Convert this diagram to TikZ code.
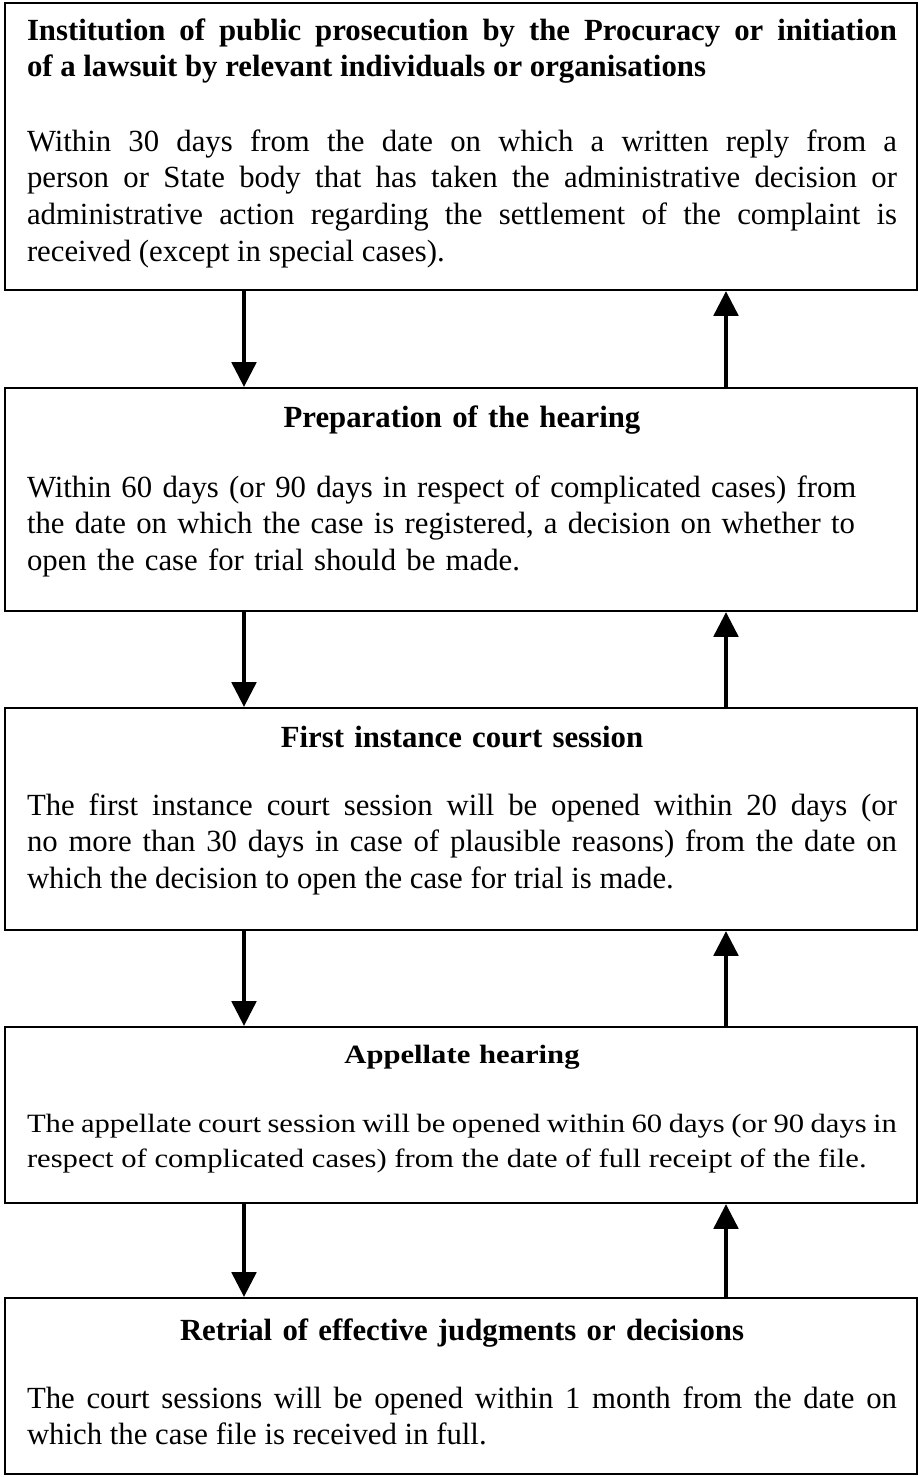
\documentclass[tikz,border=0pt]{standalone}
\usepackage{fontspec}
\setmainfont{Liberation Serif}
\newfontfamily\narrowserif[FakeStretch=1.16]{Liberation Serif}
\usetikzlibrary{arrows.meta,fit}

\begin{document}
\begin{tikzpicture}[x=0.39pt,y=0.39pt,yscale=-1,xscale=1,
  frame/.style={draw, line width=0.9pt, inner sep=0pt},
  head/.style={font=\bfseries\fontsize{12}{14.3}\selectfont, inner sep=0pt, anchor=base, text width=339.3pt, align=center},
  body/.style={font=\fontsize{12}{14.3}\selectfont, inner sep=0pt, anchor=base, text width=339.3pt, align=justify},
  flow/.style={line width=1.2pt, -{Triangle[width=9.6pt,length=9.6pt]}}]
\useasboundingbox (0,0) rectangle (918,1477);

%Shape: Rectangle
\node (box1) [frame, fit={(5,3) (917,290)}] {};
%Shape: Rectangle
\node (box2) [frame, fit={(5,388) (917,611)}] {};
%Shape: Rectangle
\node (box3) [frame, fit={(5,708) (917,930)}] {};
%Shape: Rectangle
\node (box4) [frame, fit={(5,1027) (917,1203)}] {};
%Shape: Rectangle
\node (box5) [frame, fit={(5,1298) (917,1474)}] {};

% Text Node
\draw (462,40) node (head1) [head, align=justify] {Institution of public prosecution by the Procuracy or initiation\linebreak of a lawsuit by relevant individuals or organisations};
% Text Node
\draw (462,151) node (body1) [body] {Within 30 days from the date on which a written reply from a\linebreak person or State body that has taken the administrative decision or\linebreak administrative action regarding the settlement of the complaint is\linebreak received (except in special cases).};
% Text Node
\draw (462,427) node (head2) [head] {Preparation of the hearing};
% Text Node
\draw (462,497) node (body2) [body, align=left] {Within 60 days (or 90 days in respect of complicated cases) from\\the date on which the case is registered, a decision on whether to\\open the case for trial should be made.};
% Text Node
\draw (462,747) node (head3) [head] {First instance court session};
% Text Node
\draw (462,815) node (body3) [body] {The first instance court session will be opened within 20 days (or\linebreak no more than 30 days in case of plausible reasons) from the date on\linebreak which the decision to open the case for trial is made.};
% Text Node
\draw (462,1063) node (head4) [head, font=\narrowserif\bfseries\fontsize{10.3}{13.65}\selectfont] {Appellate hearing};
% Text Node
\draw (462,1132) node (body4) [body, font=\narrowserif\fontsize{10.3}{13.65}\selectfont] {The appellate court session will be opened within 60 days (or 90 days in\linebreak respect of complicated cases) from the date of full receipt of the file.};
% Text Node
\draw (462,1340) node (head5) [head] {Retrial of effective judgments or decisions};
% Text Node
\draw (462,1408) node (body5) [body] {The court sessions will be opened within 1 month from the date on\linebreak which the case file is received in full.};

%Straight Lines with arrows
\coordinate (dn) at (244,0);
\coordinate (up) at (726,0);
\draw [flow] (box1.south -| dn) -- (box2.north -| dn);
\draw [flow] (box2.north -| up) -- (box1.south -| up);
\draw [flow] (box2.south -| dn) -- (box3.north -| dn);
\draw [flow] (box3.north -| up) -- (box2.south -| up);
\draw [flow] (box3.south -| dn) -- (box4.north -| dn);
\draw [flow] (box4.north -| up) -- (box3.south -| up);
\draw [flow] (box4.south -| dn) -- (box5.north -| dn);
\draw [flow] (box5.north -| up) -- (box4.south -| up);

\end{tikzpicture}
\end{document}
